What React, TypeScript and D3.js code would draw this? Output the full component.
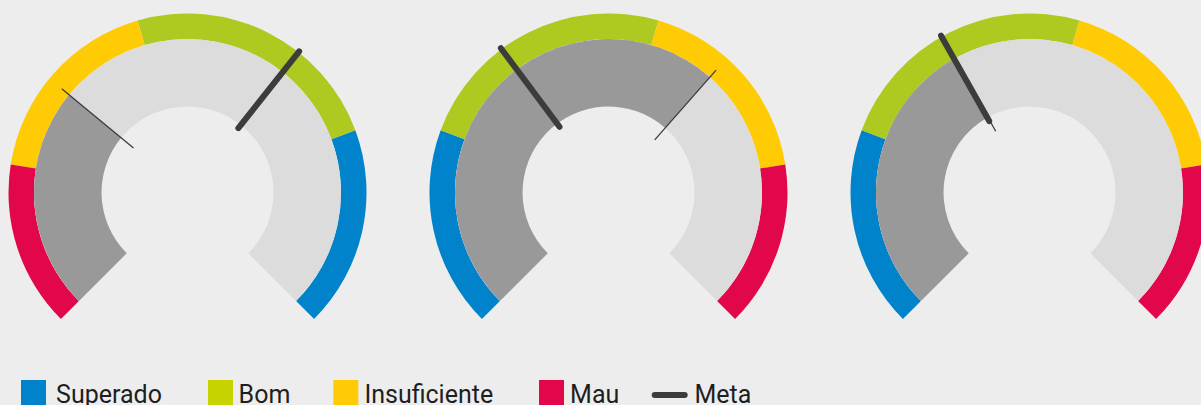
import React from "react";
import * as d3 from "d3";

// ---- data ----
const categories = ["Superado", "Bom", "Insuficiente", "Mau"];
const categoryColors = ["#0083CA", "#AEC920", "#FFCB05", "#E2074A"];
const legendColors = ["#0083CA", "#C6D300", "#FFCB05", "#E2074A"];
// band breakpoints (share of the scale) for a "low is good" gauge
const bandStops = [0.242, 0.56, 0.8];
// per gauge
const gaugeReversed = [true, false, false];
const gaugeValues = [0.313, 0.653, 0.393];
const gaugeMetas = [0.642, 0.364, 0.391];
const metaLabel = "Meta";

// ---- layout ----
const W = 1201;
const H = 405;
const CX0 = 187.5;
const CX_STEP = 421;
const CY = 192.5;
const R_OUT = 179;
const R_MID = 153.5;
const R_IN = 86;
const LEGEND_X = [21, 208, 333.3, 539];
const LEGEND_TX = [56.1, 238.6, 364.4, 570.1];
const META_LINE_X = [654.7, 684.7];
const META_TX = 694.5;

const angle = d3.scaleLinear().domain([0, 1]).range([-0.75 * Math.PI, 0.75 * Math.PI]);

function Gauge({ i }: { i: number }) {
  const cx = CX0 + i * CX_STEP;
  const arc = d3.arc<any>();
  const rev = gaugeReversed[i];
  const stops = [0, ...bandStops, 1];
  const bands = categories.map((c, k) => {
    let a = stops[k];
    let b = stops[k + 1];
    if (rev) {
      const na = 1 - b;
      b = 1 - a;
      a = na;
    }
    return { c, color: categoryColors[k], a, b };
  });
  const v = gaugeValues[i];
  const m = gaugeMetas[i];
  const va = angle(v);
  const ma = angle(m);
  const pt = (ang: number, r: number) => [Math.sin(ang) * r, -Math.cos(ang) * r];
  const [tx1, ty1] = pt(va, 70);
  const [tx2, ty2] = pt(va, 163);
  const [mx1, my1] = pt(ma, 82);
  const [mx2, my2] = pt(ma, 180);
  return (
    <g transform={`translate(${cx},${CY})`}>
      {bands.map((b) => (
        <path
          key={b.c}
          d={arc({ innerRadius: R_MID, outerRadius: R_OUT, startAngle: angle(b.a), endAngle: angle(b.b) }) as string}
          fill={b.color}
        />
      ))}
      <path
        d={arc({ innerRadius: R_IN, outerRadius: R_MID, startAngle: angle(0), endAngle: angle(1) }) as string}
        fill="#DCDCDC"
      />
      <path
        d={arc({ innerRadius: R_IN, outerRadius: R_MID, startAngle: angle(0), endAngle: va }) as string}
        fill="#999999"
      />
      <line x1={tx1} y1={ty1} x2={tx2} y2={ty2} stroke="#3C3C3B" strokeWidth={1.3} />
      <line x1={mx1} y1={my1} x2={mx2} y2={my2} stroke="#3C3C3B" strokeWidth={6} strokeLinecap="round" />
    </g>
  );
}

export default function App() {
  return (
    <svg
      width={W}
      height={H}
      style={{ position: "absolute", left: 0, top: 0, background: "#EDEDED" }}
      fontFamily="Roboto"
    >
      <rect x={0} y={0} width={W} height={H} fill="#EDEDED" />
      {gaugeValues.map((_, i) => (
        <Gauge key={i} i={i} />
      ))}
      {categories.map((c, k) => (
        <g key={c}>
          <rect x={LEGEND_X[k]} y={380} width={25} height={25} fill={legendColors[k]} />
          <text x={LEGEND_TX[k]} y={402.5} fontSize={25} fill="#1E1E1E">
            {c}
          </text>
        </g>
      ))}
      <line
        x1={META_LINE_X[0]}
        y1={395}
        x2={META_LINE_X[1]}
        y2={395}
        stroke="#3C3C3B"
        strokeWidth={6}
        strokeLinecap="round"
      />
      <text x={META_TX} y={402.5} fontSize={25} fill="#1E1E1E">
        {metaLabel}
      </text>
    </svg>
  );
}
